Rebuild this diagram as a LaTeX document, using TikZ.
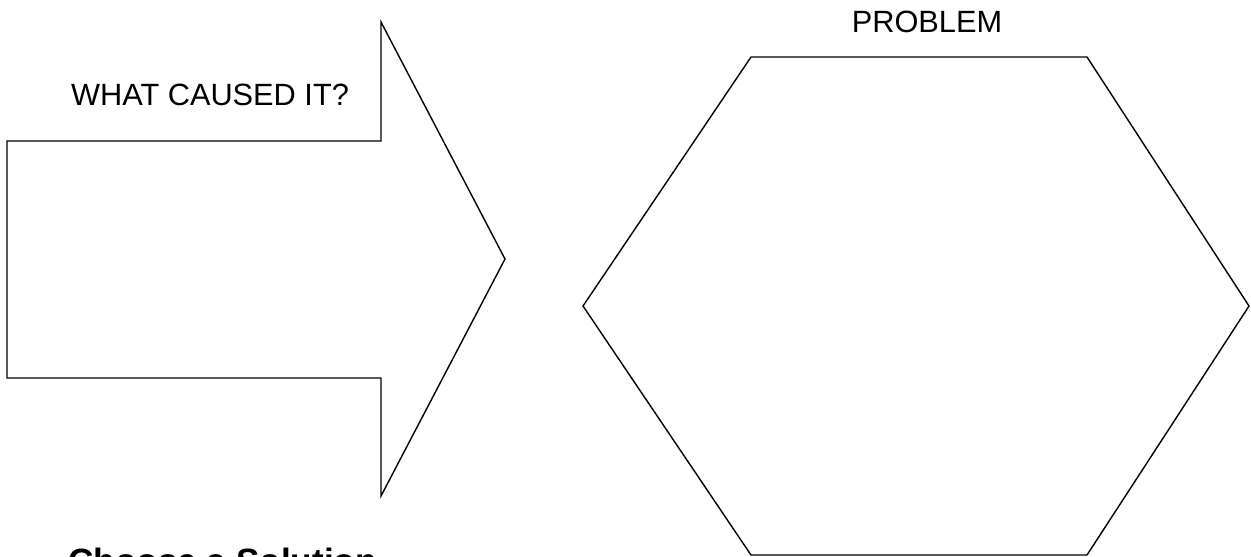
\documentclass[tikz,border=0pt]{standalone}
\usepackage{fontspec}
\setmainfont{Liberation Sans}
\begin{document}
\begin{tikzpicture}[x=0.02cm, y=-0.02cm,
  outline/.style={draw=black, line width=0.8pt, line join=miter},
  lbl/.style={font=\fontsize{17.5}{21}\selectfont, inner sep=0pt}]
\useasboundingbox (0,0) rectangle (1251,556);
% cause arrow
\draw[outline] (7,141) -- (381,141) -- (381,22) -- (505,259) -- (381,496) -- (381,378) -- (7,378) -- cycle;
% problem hexagon
\draw[outline] (583,306) -- (751,57) -- (1087,57) -- (1249,306) -- (1087,555) -- (751,555) -- cycle;
% labels
\node[lbl, anchor=base] (cause) at (210,105) {WHAT CAUSED IT?};
\node[lbl, anchor=base] (problem) at (927,32) {PROBLEM};
\node[lbl, anchor=base west, font=\fontsize{20}{24}\selectfont\bfseries] (solution) at (68,573) {Choose a Solution};
\end{tikzpicture}
\end{document}
